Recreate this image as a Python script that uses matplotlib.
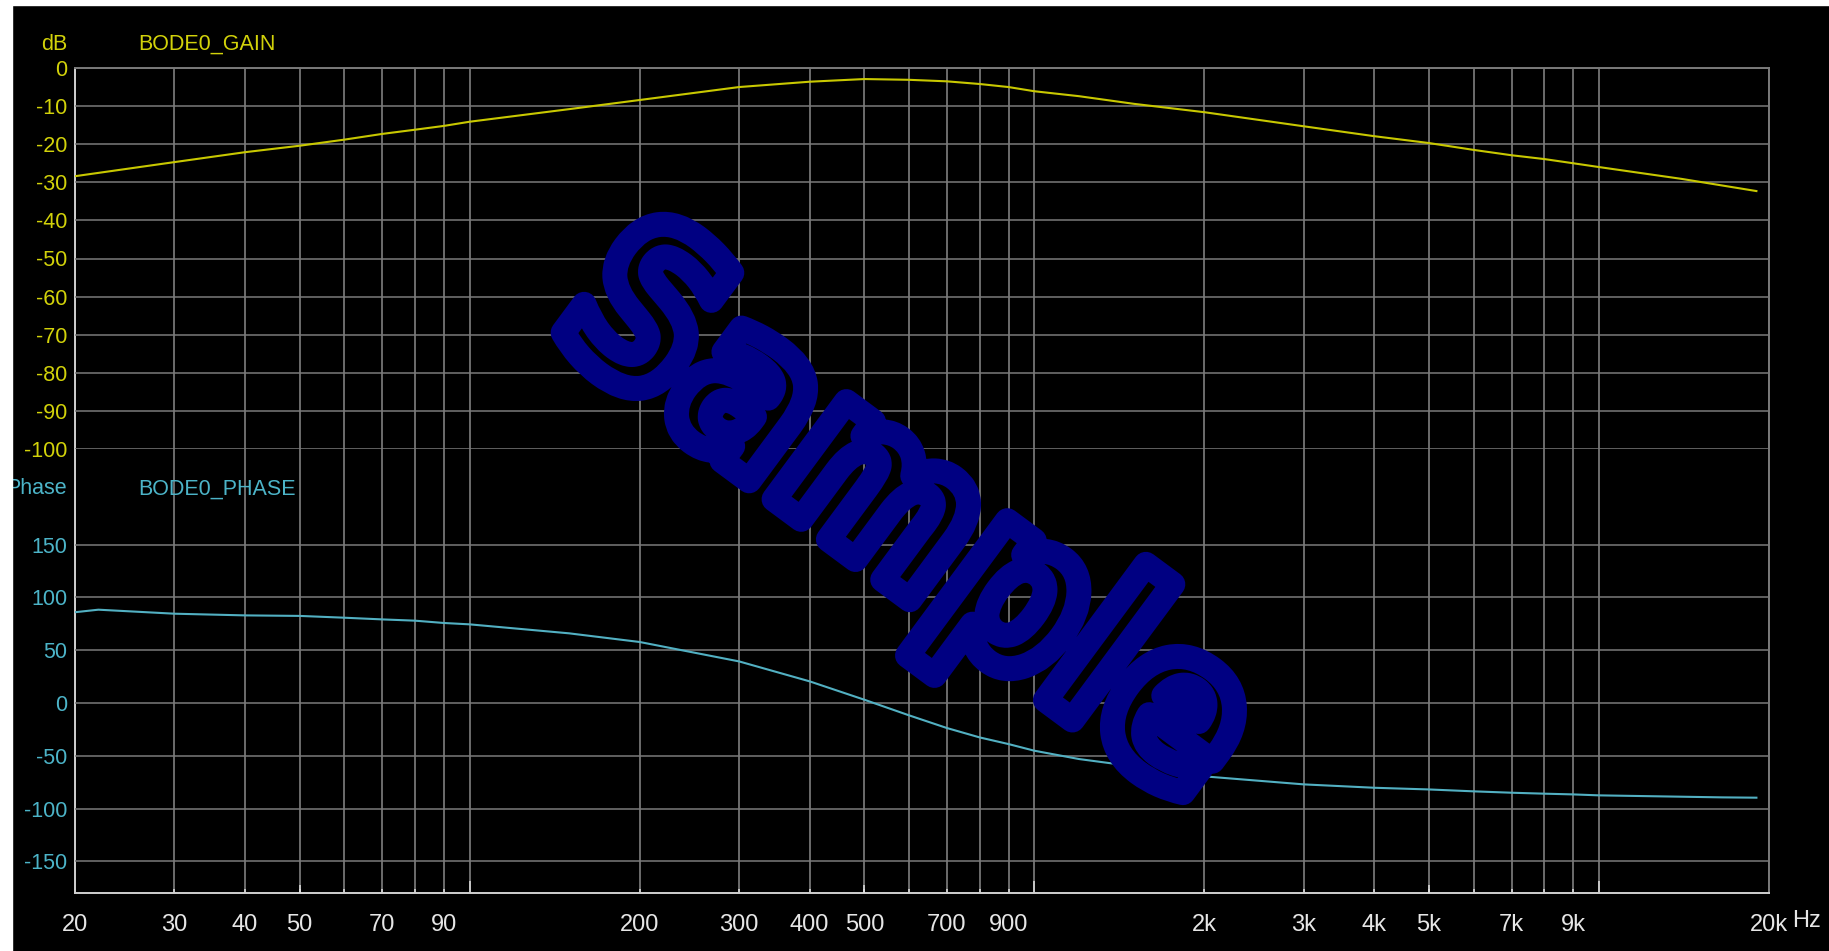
import matplotlib
matplotlib.use('Agg')
import matplotlib.pyplot as plt
from matplotlib.ticker import FixedLocator, FixedFormatter, NullFormatter
from matplotlib.patches import Rectangle, PathPatch
from matplotlib.textpath import TextPath
from matplotlib.font_manager import FontProperties
from matplotlib.transforms import Affine2D

# values
freq_gain = [20, 30, 40, 50, 60, 70, 80, 90, 100, 150, 200, 300, 400, 500, 600, 700,
             800, 900, 1000, 1200, 1500, 2000, 3000, 4000, 5000, 6000, 7000, 8000,
             9000, 10000, 14000, 19000]
gain_db = [-28.4, -24.7, -22.1, -20.4, -18.8, -17.3, -16.2, -15.2, -14.1, -10.8, -8.4,
           -5.0, -3.6, -2.9, -3.1, -3.5, -4.2, -5.0, -6.1, -7.4, -9.4, -11.6, -15.3,
           -17.9, -19.7, -21.5, -22.9, -23.9, -25.0, -26.0, -29.1, -32.3]

freq_phase = [20, 22, 30, 40, 50, 60, 70, 80, 90, 100, 150, 200, 300, 400, 500, 600,
              700, 800, 900, 1000, 1200, 1500, 2000, 3000, 4000, 5000, 6000, 7000,
              8000, 9000, 10000, 16500, 19000]
phase_deg = [86.0, 88.4, 84.6, 83.0, 82.5, 80.8, 79.2, 78.0, 75.8, 74.5, 66.0, 57.8,
             39.4, 20.5, 3.1, -11.7, -23.7, -32.6, -38.9, -45.2, -53.1, -60.0, -69.5,
             -77.1, -80.3, -81.9, -83.7, -85.0, -85.9, -86.6, -87.5, -89.4, -89.7]

grid_freqs = [20, 30, 40, 50, 60, 70, 80, 90,
              100, 200, 300, 400, 500, 600, 700, 800, 900,
              1000, 2000, 3000, 4000, 5000, 6000, 7000, 8000, 9000,
              10000, 20000]
decade_freqs = [100, 1000, 10000]
half_freqs = [50, 500, 5000]
label_freqs = [20, 30, 40, 50, 70, 90, 200, 300, 400, 500, 700, 900,
               2000, 3000, 4000, 5000, 7000, 9000, 20000]
label_text = ['20', '30', '40', '50', '70', '90', '200', '300', '400', '500', '700',
              '900', '2k', '3k', '4k', '5k', '7k', '9k', '20k']
gain_ticks = [0, -10, -20, -30, -40, -50, -60, -70, -80, -90, -100]
phase_ticks = [150, 100, 50, 0, -50, -100, -150]

W, H = 1829, 951
yellow = '#d2d20a'
yellow_line = '#c8c800'
cyan = '#4cb4c8'
cyan_line = '#52b0c2'
label_col = '#e6e6e6'
grid_col = '#7a7a7a'
plt.rcParams['font.family'] = ['Liberation Sans', 'DejaVu Sans']

fig = plt.figure(figsize=(W / 100, H / 100), dpi=100, facecolor='black')

left, right, top, bottom = 75, 1769, 68, 893
def box(t, b):
    return [left / W, (H - b) / H, (right - left) / W, (b - t) / H]

# frame with vertical grid
ax = fig.add_axes(box(top, bottom))
ax.set_facecolor('black')
ax.set_xscale('log')
ax.set_xlim(20, 20000)
ax.set_ylim(0, 1)
ax.set_yticks([])
ax.xaxis.set_major_locator(FixedLocator(decade_freqs))
ax.xaxis.set_minor_locator(FixedLocator(grid_freqs))
ax.xaxis.set_major_formatter(NullFormatter())
ax.xaxis.set_minor_formatter(NullFormatter())
ax.tick_params(axis='x', which='major', direction='in', length=8.6, width=1.1, color='#e0e0e0')
ax.tick_params(axis='x', which='minor', direction='in', length=2.9, width=1.1, color='#e0e0e0')
ax.grid(True, which='both', axis='x', color='#8a8a8a', linewidth=1.1)
for s in ['top', 'right']:
    ax.spines[s].set_color(grid_col)
for s in ['left', 'bottom']:
    ax.spines[s].set_color('#d0d0d0')
for s in ax.spines.values():
    s.set_linewidth(1.4)

# gain panel
axg = fig.add_axes(box(68, 449))
axg.patch.set_alpha(0)
axg.set_xscale('log')
axg.set_xlim(20, 20000)
axg.set_ylim(-100, 0)
axg.set_yticks(gain_ticks)
axg.set_yticklabels([str(t) for t in gain_ticks])
axg.tick_params(axis='y', length=0, pad=5.5, labelsize=15.5, labelcolor=yellow)
axg.tick_params(axis='x', which='both', bottom=False, labelbottom=False)
axg.grid(True, axis='y', color=grid_col, linewidth=1.1)
for s in axg.spines.values():
    s.set_visible(False)
axg.plot(freq_gain, gain_db, color=yellow_line, linewidth=1.5)

# phase panel
axp = fig.add_axes(box(513, 893))
axp.patch.set_alpha(0)
axp.set_xscale('log')
axp.set_xlim(20, 20000)
axp.set_ylim(-180, 180)
axp.set_yticks(phase_ticks)
axp.set_yticklabels([str(t) for t in phase_ticks])
axp.tick_params(axis='y', length=0, pad=5.5, labelsize=15.5, labelcolor=cyan)
axp.xaxis.set_major_locator(FixedLocator(label_freqs))
axp.xaxis.set_major_formatter(FixedFormatter(label_text))
axp.xaxis.set_minor_locator(FixedLocator(half_freqs))
axp.xaxis.set_minor_formatter(NullFormatter())
axp.xaxis.remove_overlapping_locs = False
axp.tick_params(axis='x', which='major', length=0, pad=15, labelsize=17, labelcolor=label_col)
axp.tick_params(axis='x', which='minor', direction='in', length=5.8, width=1.1, color='#e0e0e0')
axp.grid(True, axis='y', color=grid_col, linewidth=1.1)
for s in axp.spines.values():
    s.set_visible(False)
axp.plot(freq_phase, phase_deg, color=cyan_line, linewidth=1.5)

# panel captions
fig.text(67 / W, 1 - 45 / H, 'dB', ha='right', va='center', color=yellow, fontsize=15.5)
fig.text(138 / W, 1 - 44 / H, 'BODE0_GAIN', ha='left', va='center', color=yellow, fontsize=15.5)
fig.text(67 / W, 1 - 489 / H, 'Phase', ha='right', va='center', color=cyan, fontsize=15.5)
fig.text(138 / W, 1 - 489 / H, 'BODE0_PHASE', ha='left', va='center', color=cyan, fontsize=15.5)
fig.text(1792 / W, 1 - 921 / H, 'Hz', ha='left', va='center', color=label_col, fontsize=17)

# watermark
tp = TextPath((0, 0), 'Sample', size=1, prop=FontProperties(family='DejaVu Sans', weight='bold'))
ext = tp.get_extents()
cap = 0.729
tr = (Affine2D().translate(-(ext.x0 + ext.width / 2), -cap / 2)
      .scale(778 / ext.width, 162 / cap).rotate_deg(-36.5).translate(918, H - 505))
wm = PathPatch(tp, transform=tr, facecolor='black', edgecolor='#000082', linewidth=18,
               joinstyle='round', zorder=5)
fig.add_artist(wm)

# white border at top and left
fig.add_artist(Rectangle((0, 0), 12 / W, 1, transform=fig.transFigure, color='white', zorder=10))
fig.add_artist(Rectangle((0, 1 - 5 / H), 1, 5 / H, transform=fig.transFigure, color='white', zorder=10))

fig.savefig('out.png', dpi=100, facecolor='black')
